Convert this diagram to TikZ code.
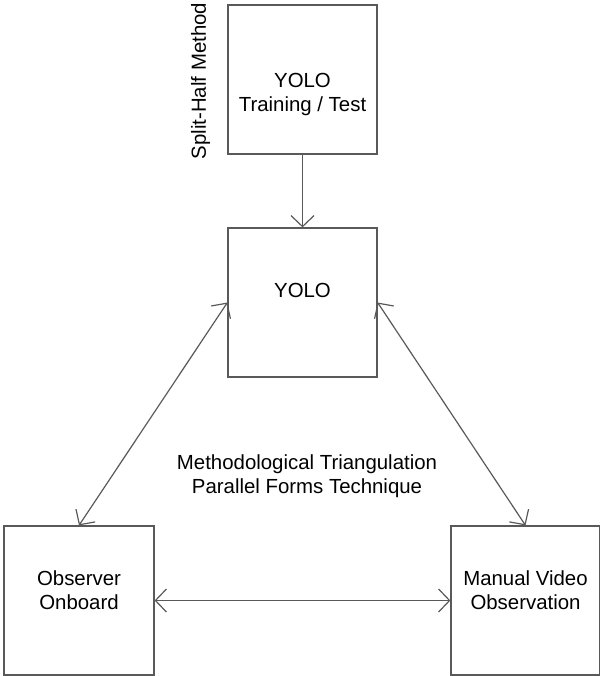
\documentclass[tikz,border=0pt]{standalone}
\usepackage{fontspec}
\setmainfont{Liberation Sans}
\usetikzlibrary{arrows.meta}
\begin{document}
\begin{tikzpicture}[x=1pt,y=-1pt,
  box/.style={draw=black!65, line width=1.2pt, rectangle, inner sep=0pt,
    minimum width=149pt, minimum height=149pt},
  lbl/.style={font=\fontsize{20.4}{24}\selectfont, align=center, inner sep=0pt, text=black},
  tip/.tip={Straight Barb[length=11pt,width=23pt,line width=1.2pt]},
  link/.style={draw=black!65, line width=1.2pt, arrows={-tip}},
  dlink/.style={link, arrows={tip-tip}}]
\useasboundingbox (0,0) rectangle (599,676);

% boxes
\node[box] (train) at (302.5,79.5) {};
\node[box] (yolo)  at (302.5,302.5) {};
\node[box, minimum width=150pt] (obs) at (79,600.5) {};
\node[box] (video) at (525.5,600.5) {};

% box captions
\node[lbl] (trainT) at (302.5,94) {YOLO\\Training / Test};
\node[lbl] (yoloT)  at (302.5,290.5) {YOLO};
\node[lbl] (obsT)   at (79,590) {Observer\\Onboard};
\node[lbl] (videoT) at (525.5,590) {Manual Video\\Observation};

% free captions
\node[lbl, rotate=90] (split) at (200.5,81) {Split-Half Method};
\node[lbl] (method) at (307,476) {Methodological Triangulation\\Parallel Forms Technique};

% connectors
\draw[link]  (train.south) -- (yolo.north);
\draw[dlink] (yolo.west) -- (obs.north);
\draw[dlink] (yolo.east) -- (video.north);
\draw[dlink] (obs.east) -- (video.west);
\end{tikzpicture}
\end{document}
